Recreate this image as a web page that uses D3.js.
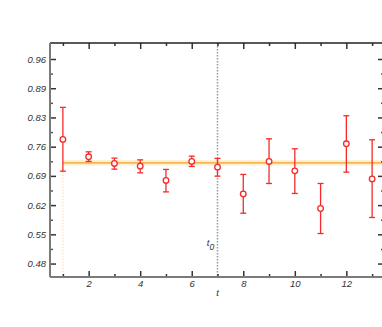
<!DOCTYPE html>
<html>
<head>
<meta charset="utf-8" />
<title>Plateau fit</title>
<script src="https://d3js.org/d3.v7.min.js"></script>
<style>
  body { margin: 0; background: #fff; }
  svg text { font-family: "Liberation Sans", Arial, sans-serif; font-style: italic; fill: #333; }
</style>
</head>
<body>
<svg id="chart" width="382" height="327"></svg>
<script>
// data
var tValues   = [1, 2, 3, 4, 5, 6, 7, 8, 9, 10, 11, 12, 13];
var yValues   = [0.7745, 0.7337, 0.7182, 0.7118, 0.6783, 0.7229, 0.7095, 0.6468, 0.7229, 0.7008, 0.6126, 0.7642, 0.6820];
var yUpper    = [0.8496, 0.7454, 0.7306, 0.7266, 0.7041, 0.7353, 0.7299, 0.6924, 0.7759, 0.7525, 0.6712, 0.8299, 0.7736];
var yLower    = [0.7001, 0.7229, 0.7048, 0.6961, 0.6515, 0.7111, 0.6884, 0.6015, 0.6712, 0.6478, 0.5539, 0.6978, 0.5915];
var fitValue  = 0.7196;
var fitError  = 0.0063;
var fitRange  = [1, 13.5];
var t0 = 7;
var yTickValues = [0.4835, 0.552, 0.6205, 0.689, 0.7575, 0.826, 0.8945, 0.963];
var yTickLabels = ["0.48", "0.55", "0.62", "0.69", "0.76", "0.83", "0.89", "0.96"];
var xTickValues = [1, 2, 3, 4, 5, 6, 7, 8, 9, 10, 11, 12, 13];

var svg = d3.select("#chart"),
    margin = { left: 50, top: 43, right: 385, bottom: 277 };

var x = d3.scaleLinear().domain([0.5, 13.5]).range([margin.left, margin.right]);
var y = d3.scaleLinear().domain([0.4520, 1.0005]).range([margin.bottom, margin.top]);

var red = "#f52a2a", orange = "#efa129", axisGrey = "#7a7a7a";

// fit band
svg.append("rect")
    .attr("x", x(fitRange[0]))
    .attr("y", y(fitValue + fitError))
    .attr("width", x(fitRange[1]) - x(fitRange[0]))
    .attr("height", y(fitValue - fitError) - y(fitValue + fitError))
    .attr("fill", "#fbd48a")
    .attr("opacity", 0.4);

svg.append("line")
    .attr("x1", x(fitRange[0])).attr("x2", x(fitRange[1]))
    .attr("y1", y(fitValue)).attr("y2", y(fitValue))
    .attr("stroke", orange).attr("stroke-width", 1.3);

// faint dotted edge of fit range
svg.append("line")
    .attr("x1", x(fitRange[0])).attr("x2", x(fitRange[0]))
    .attr("y1", y(fitValue)).attr("y2", margin.bottom)
    .attr("stroke", "#f6cf8c").attr("stroke-width", 1)
    .attr("stroke-dasharray", "1,2");

// t0 marker
svg.append("line")
    .attr("x1", x(t0)).attr("x2", x(t0))
    .attr("y1", margin.top).attr("y2", margin.bottom)
    .attr("stroke", "#999").attr("stroke-width", 1.5)
    .attr("stroke-dasharray", "1.5,1.5");

var t0Label = svg.append("text")
    .attr("x", x(t0) - 7).attr("y", 246)
    .attr("text-anchor", "middle")
    .style("font-size", "9.5px");
t0Label.append("tspan").text("t");
t0Label.append("tspan").attr("dy", 4).style("font-size", "8.5px").text("0");

// error bars
var points = tValues.map(function (t, i) {
    return { t: t, v: yValues[i], hi: yUpper[i], lo: yLower[i] };
});

var bars = svg.append("g").selectAll("g")
    .data(points)
    .enter().append("g")
    .attr("stroke", red)
    .attr("stroke-width", 1.3)
    .attr("fill", "none");

bars.append("line")
    .attr("x1", function (d) { return x(d.t); })
    .attr("x2", function (d) { return x(d.t); })
    .attr("y1", function (d) { return y(d.hi); })
    .attr("y2", function (d) { return y(d.lo); });

bars.append("line")
    .attr("x1", function (d) { return x(d.t) - 3; })
    .attr("x2", function (d) { return x(d.t) + 3; })
    .attr("y1", function (d) { return y(d.hi); })
    .attr("y2", function (d) { return y(d.hi); });

bars.append("line")
    .attr("x1", function (d) { return x(d.t) - 3; })
    .attr("x2", function (d) { return x(d.t) + 3; })
    .attr("y1", function (d) { return y(d.lo); })
    .attr("y2", function (d) { return y(d.lo); });

bars.append("circle")
    .attr("cx", function (d) { return x(d.t); })
    .attr("cy", function (d) { return y(d.v); })
    .attr("r", 2.8)
    .attr("fill", "#fff");

// axes
function styleAxis(g, colour) {
    g.select(".domain").remove();
    g.selectAll("line").attr("stroke", colour).attr("stroke-width", 1.5);
    g.selectAll("text").style("font-size", "9.5px");
}

var minorY = yTickValues.slice(0, -1).map(function (v, i) { return (v + yTickValues[i + 1]) / 2; });

// bottom
svg.append("g")
    .attr("transform", "translate(0," + margin.bottom + ")")
    .call(d3.axisBottom(x).tickValues(xTickValues)
        .tickSizeInner(-6).tickSizeOuter(0).tickPadding(3)
        .tickFormat(function (d) { return d % 2 === 0 ? d : ""; }))
    .call(styleAxis, "#333")
    .selectAll(".tick line")
    .attr("y2", function (d) { return d % 2 === 0 ? -6 : -3; });

// top
svg.append("g")
    .attr("transform", "translate(0," + margin.top + ")")
    .call(d3.axisTop(x).tickValues(xTickValues).tickSizeOuter(0).tickFormat(""))
    .call(styleAxis, "#333")
    .selectAll(".tick line")
    .attr("y2", function (d) { return d % 2 === 0 ? 6 : 3; });

// left
svg.append("g")
    .attr("transform", "translate(" + margin.left + ",0)")
    .call(d3.axisLeft(y).tickValues(yTickValues)
        .tickSizeInner(-6).tickSizeOuter(0).tickPadding(4)
        .tickFormat(function (d, i) { return yTickLabels[i]; }))
    .call(styleAxis, "#333")
    .selectAll(".tick text").attr("x", -4);

svg.append("g")
    .attr("transform", "translate(" + margin.left + ",0)")
    .call(d3.axisLeft(y).tickValues(minorY).tickSize(-3).tickFormat(""))
    .call(styleAxis, "#555");

// right
svg.append("g")
    .attr("transform", "translate(" + margin.right + ",0)")
    .call(d3.axisRight(y).tickValues(yTickValues).tickSize(-7).tickFormat(""))
    .call(styleAxis, "#333");

svg.append("g")
    .attr("transform", "translate(" + margin.right + ",0)")
    .call(d3.axisRight(y).tickValues(minorY).tickSize(-4).tickFormat(""))
    .call(styleAxis, "#555");

// frame
svg.append("line")
    .attr("x1", margin.left).attr("x2", margin.right)
    .attr("y1", margin.top).attr("y2", margin.top)
    .attr("stroke", "#222").attr("stroke-width", 1.5);
svg.append("line")
    .attr("x1", margin.left).attr("x2", margin.right)
    .attr("y1", margin.bottom).attr("y2", margin.bottom)
    .attr("stroke", axisGrey).attr("stroke-width", 2);
svg.append("line")
    .attr("x1", margin.left).attr("x2", margin.left)
    .attr("y1", margin.top).attr("y2", margin.bottom)
    .attr("stroke", axisGrey).attr("stroke-width", 2);

// axis label
svg.append("text")
    .attr("x", x(t0)).attr("y", 296)
    .attr("text-anchor", "middle")
    .style("font-size", "9.5px")
    .text("t");
</script>
</body>
</html>
